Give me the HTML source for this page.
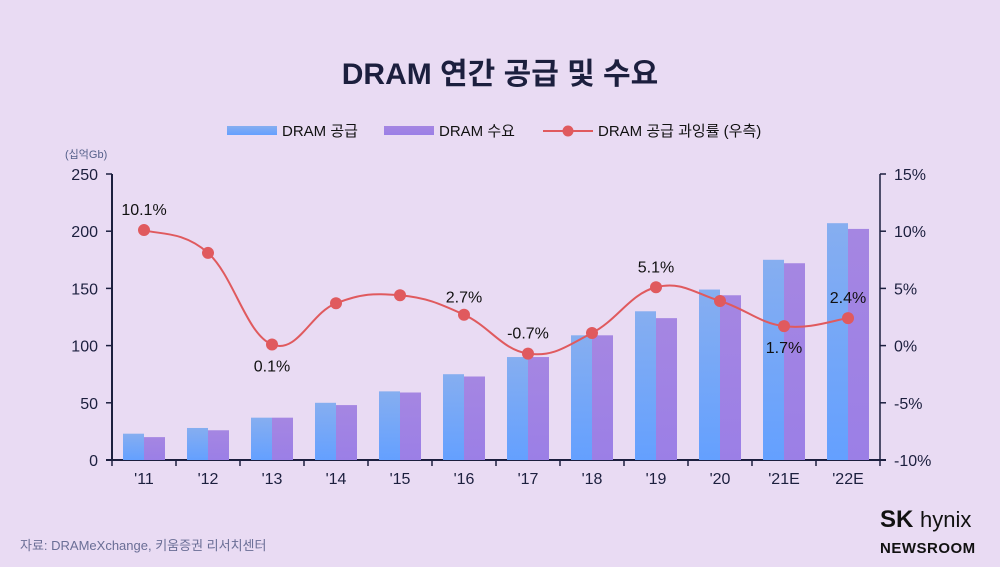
<!DOCTYPE html>
<html><head><meta charset="utf-8">
<style>
body{margin:0;background:#e9dbf3;}
svg{display:block;font-family:"Liberation Sans","Noto Sans CJK KR",sans-serif;}
</style></head>
<body>
<svg id="chart" width="1000" height="567" viewBox="0 0 1000 567">
<defs>
<linearGradient id="gs" x1="0" y1="0" x2="0" y2="1"><stop offset="0" stop-color="#86aef0"/><stop offset="1" stop-color="#64a0ff"/></linearGradient>
<linearGradient id="gd" x1="0" y1="0" x2="0" y2="1"><stop offset="0" stop-color="#a586e2"/><stop offset="1" stop-color="#9b7fe6"/></linearGradient>
</defs>
<rect width="1000" height="567" fill="#e9dbf3"/>
<text x="500" y="84" text-anchor="middle" font-size="30" font-weight="bold" fill="#1c1f3e">DRAM 연간 공급 및 수요</text>
<g>
<rect x="227" y="126" width="50" height="9" fill="url(#gs)"/>
<text x="282" y="136" font-size="15" fill="#111">DRAM 공급</text>
<rect x="384" y="126" width="50" height="9" fill="url(#gd)"/>
<text x="439" y="136" font-size="15" fill="#111">DRAM 수요</text>
<line x1="543" y1="131" x2="593" y2="131" stroke="#e05a5e" stroke-width="2"/>
<circle cx="568" cy="131" r="5.5" fill="#e05a5e"/>
<text x="598" y="136" font-size="15" fill="#111">DRAM 공급 과잉률 (우측)</text>
</g>
<text x="65" y="158" font-size="11" fill="#55608a">(십억Gb)</text>
<g id="axes"></g>
<g id="bars"></g>
<g id="line"></g>
<text x="20" y="550" font-size="13" fill="#6a6e96">자료: DRAMeXchange,  키움증권 리서치센터</text>
<text x="880" y="527" font-size="24" font-weight="bold" fill="#111">SK <tspan font-weight="normal" font-size="22">hynix</tspan></text>
<text x="880" y="553" font-size="15" font-weight="bold" fill="#111" letter-spacing="0.5">NEWSROOM</text>
</svg>
<script>
const categories=["'11","'12","'13","'14","'15","'16","'17","'18","'19","'20","'21E","'22E"];
const supply=[23,28,37,50,60,75,90,109,130,149,175,207];
const demand=[20,26,37,48,59,73,90,109,124,144,172,202];
const oversupply=[10.1,8.1,0.1,3.7,4.4,2.7,-0.7,1.1,5.1,3.9,1.7,2.4];
const leftTicks=[0,50,100,150,200,250];
const rightTicks=[-10,-5,0,5,10,15];
const labeled=[0,2,5,6,8,10,11];
const labelOffsets={0:-20,2:22,5:-17,6:-20,8:-20,10:22,11:-20};

const NS="http://www.w3.org/2000/svg";
const X0=112,X1=880,Y0=460,Ytop=174;
const band=(X1-X0)/categories.length;
const yL=v=>Y0-(v/250)*(Y0-Ytop);
const yR=v=>Y0-((v+10)/25)*(Y0-Ytop);
const xC=i=>X0+band*(i+0.5);
function mk(tag,attrs,parent){const e=document.createElementNS(NS,tag);for(const k in attrs)e.setAttribute(k,attrs[k]);parent.appendChild(e);return e;}
const axes=document.getElementById('axes'),bars=document.getElementById('bars'),line=document.getElementById('line');

let e=mk('line',{x1:X0,y1:Ytop,x2:X0,y2:Y0,stroke:'#1c1f3e','stroke-width':2},axes);


e=mk('line',{x1:X1,y1:Ytop,x2:X1,y2:Y0,stroke:'#1c1f3e','stroke-width':1.5},axes);


e=mk('line',{x1:X0-6,y1:Y0,x2:X1+6,y2:Y0,stroke:'#1c1f3e','stroke-width':2},axes);


leftTicks.forEach(v=>{
  mk('line',{x1:X0-6,y1:yL(v),x2:X0,y2:yL(v),stroke:'#1c1f3e','stroke-width':1.5},axes);
  const t=mk('text',{x:X0-14,y:yL(v)+6,'text-anchor':'end','font-size':16,fill:'#1c1f3e'},axes);
  t.textContent=v;
  
  
});
rightTicks.forEach(v=>{
  mk('line',{x1:X1,y1:yR(v),x2:X1+6,y2:yR(v),stroke:'#1c1f3e','stroke-width':1.5},axes);
  const t=mk('text',{x:X1+14,y:yR(v)+6,'font-size':16,fill:'#1c1f3e'},axes);
  t.textContent=v+'%';
  
  
});
for(let i=0;i<=categories.length;i++){
  mk('line',{x1:X0+band*i,y1:Y0,x2:X0+band*i,y2:Y0+6,stroke:'#1c1f3e','stroke-width':1.5},axes);
}
categories.forEach((c,i)=>{
  const t=mk('text',{x:xC(i),y:Y0+24,'text-anchor':'middle','font-size':16,fill:'#1c1f3e'},axes);
  t.textContent=c;
  
  
  const bw=21;
  let r=mk('rect',{x:xC(i)-bw,y:yL(supply[i]),width:bw,height:Y0-yL(supply[i]),fill:'url(#gs)'},bars);
  
  
  r=mk('rect',{x:xC(i),y:yL(demand[i]),width:bw,height:Y0-yL(demand[i]),fill:'url(#gd)'},bars);
  
  
});
// smooth line (Catmull-Rom)
const pts=oversupply.map((v,i)=>[xC(i),yR(v)]);
let d='M'+pts[0][0]+','+pts[0][1];
for(let i=0;i<pts.length-1;i++){
  const p0=pts[Math.max(i-1,0)],p1=pts[i],p2=pts[i+1],p3=pts[Math.min(i+2,pts.length-1)];
  const k=0.2;
  d+=' C'+(p1[0]+(p2[0]-p0[0])*k)+','+(p1[1]+(p2[1]-p0[1])*k)+' '+(p2[0]-(p3[0]-p1[0])*k)+','+(p2[1]-(p3[1]-p1[1])*k)+' '+p2[0]+','+p2[1];
}
const path=mk('path',{d:d,fill:'none',stroke:'#e05a5e','stroke-width':2},line);


pts.forEach((p,i)=>{
  const c=mk('circle',{cx:p[0],cy:p[1],r:6,fill:'#e05a5e'},line);
  
  
});
labeled.forEach(i=>{
  const t=mk('text',{x:pts[i][0],y:pts[i][1]+labelOffsets[i]+5,'text-anchor':'middle','font-size':16,fill:'#111'},line);
  t.textContent=oversupply[i].toFixed(1)+'%';
  
  
});
</script>
</body></html>
